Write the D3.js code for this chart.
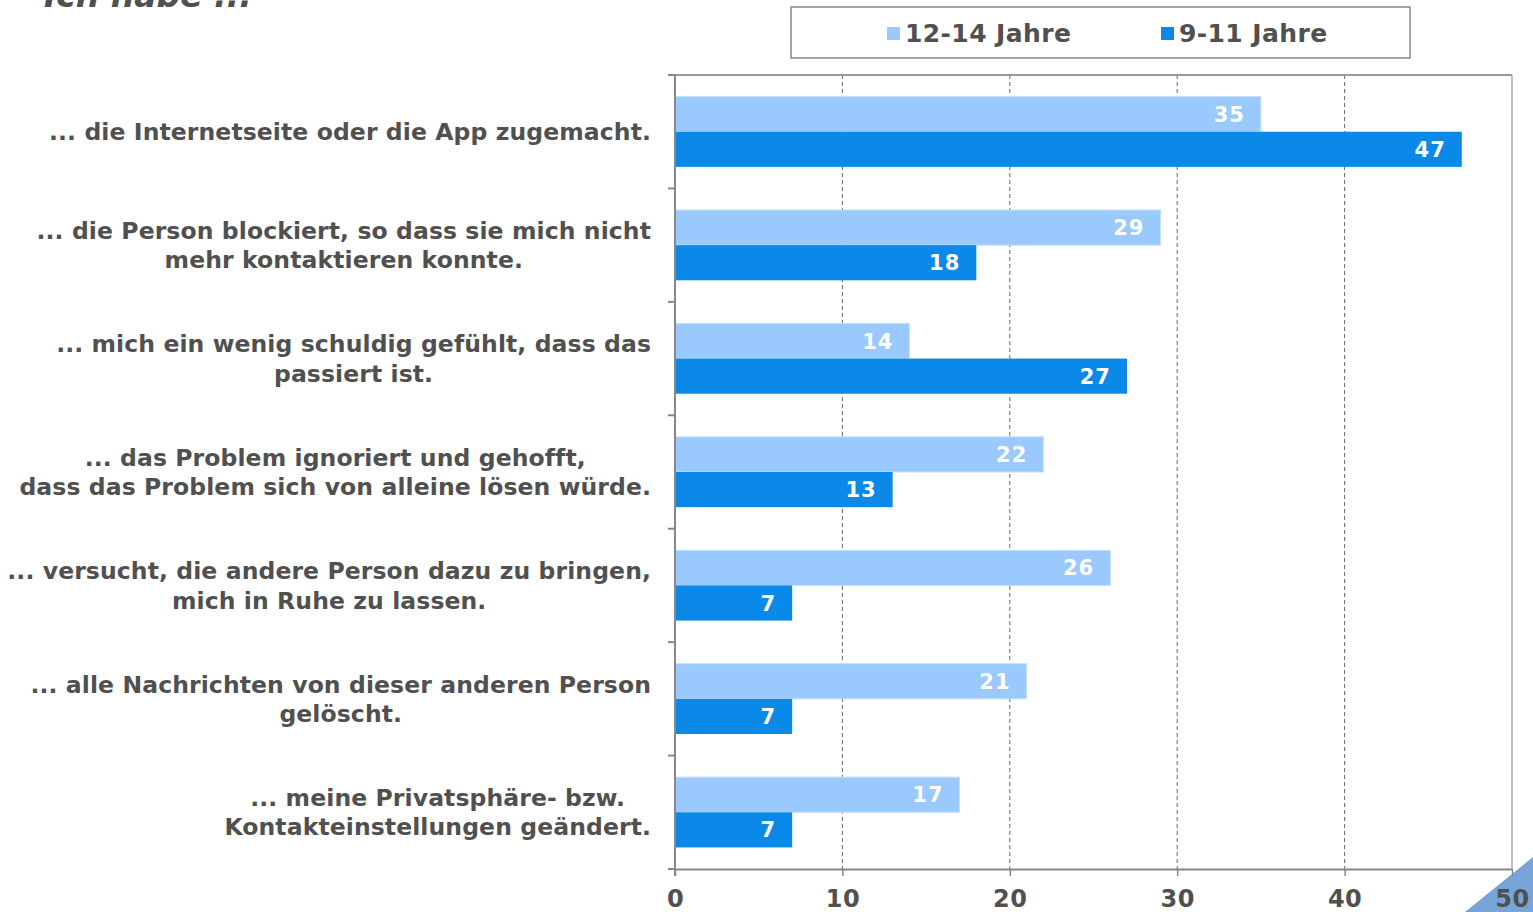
<!DOCTYPE html>
<html>
<head>
<meta charset="utf-8">
<script src="https://cdn.jsdelivr.net/npm/d3@7/dist/d3.min.js"></script>
<style>
	body { margin: 0; background: #fff; }
	svg { display: block; font-family: "DejaVu Sans", Verdana, sans-serif; }
</style>
</head>
<body>
<script>
// Kategorien (Zeilen werden mit "|" getrennt)
var categories = [
	"... die Internetseite oder die App zugemacht.",
	"... die Person blockiert, so dass sie mich nicht|mehr kontaktieren konnte.",
	"... mich ein wenig schuldig gefühlt, dass das|passiert ist.",
	"... das Problem ignoriert und gehofft,|dass das Problem sich von alleine lösen würde.",
	"... versucht, die andere Person dazu zu bringen,|mich in Ruhe zu lassen.",
	"... alle Nachrichten von dieser anderen Person|gelöscht.",
	"... meine Privatsphäre- bzw.|Kontakteinstellungen geändert."
];
var seriesNames = ["12-14 Jahre", "9-11 Jahre"];
var older = [35, 29, 14, 22, 26, 21, 17];
var younger = [47, 18, 27, 13, 7, 7, 7];
var xTicks = [0, 10, 20, 30, 40, 50];
var title = "Ich habe ...";

var colors = ["#99c9fd", "#0a89e8"];
var textColor = "#505050";

var width = 1533, height = 912;
var margin = { top: 75, left: 675, right: 21, bottom: 43 };

var svg = d3.select("body").append("svg")
	.attr("width", width)
	.attr("height", height);

var x = d3.scaleLinear()
	.domain([0, 50])
	.range([margin.left, width - margin.right]);

var y = d3.scaleBand()
	.domain(d3.range(categories.length))
	.range([margin.top, height - margin.bottom]);

var inner = y.bandwidth() * 0.62;
var ySub = d3.scaleBand()
	.domain([0, 1])
	.range([(y.bandwidth() - inner) / 2, (y.bandwidth() + inner) / 2]);

// Titel (oben abgeschnitten wie im Original)
svg.append("text")
	.attr("x", 44)
	.attr("y", 7)
	.attr("font-size", 33)
	.attr("font-weight", "bold")
	.attr("font-style", "italic")
	.attr("fill", textColor)
	.text(title);

// Gitterlinien
svg.append("g")
	.selectAll("line")
	.data(xTicks.slice(1, -1))
	.join("line")
	.attr("x1", d => x(d)).attr("x2", d => x(d))
	.attr("y1", margin.top).attr("y2", height - margin.bottom)
	.attr("stroke", "#666")
	.attr("stroke-width", 1)
	.attr("stroke-dasharray", "4,3");

// Rahmen oben / rechts
svg.append("line")
	.attr("x1", x(0) - 7).attr("x2", x(50))
	.attr("y1", margin.top).attr("y2", margin.top)
	.attr("stroke", "#999").attr("stroke-width", 2);
svg.append("line")
	.attr("x1", x(50)).attr("x2", x(50))
	.attr("y1", margin.top).attr("y2", height - margin.bottom)
	.attr("stroke", "#aaa").attr("stroke-width", 1.5);

// Balken
var rows = svg.append("g")
	.selectAll("g")
	.data(categories.map((c, i) => ({ i: i, values: [older[i], younger[i]] })))
	.join("g")
	.attr("transform", d => "translate(0," + y(d.i) + ")");

rows.selectAll("rect")
	.data(d => d.values.map((v, k) => ({ v: v, k: k })))
	.join("rect")
	.attr("x", x(0))
	.attr("y", d => ySub(d.k))
	.attr("width", d => x(d.v) - x(0))
	.attr("height", ySub.bandwidth())
	.attr("fill", d => colors[d.k])
	.attr("stroke", d => d.k === 0 ? "#c4e0fd" : "none")
	.attr("stroke-width", 1);

rows.selectAll("text.val")
	.data(d => d.values.map((v, k) => ({ v: v, k: k })))
	.join("text")
	.attr("class", "val")
	.attr("x", d => x(d.v) - 16)
	.attr("y", d => ySub(d.k) + ySub.bandwidth() / 2)
	.attr("dy", "0.36em")
	.attr("text-anchor", "end")
	.attr("font-size", 21)
	.attr("letter-spacing", 1)
	.attr("font-weight", "bold")
	.attr("fill", "#fff")
	.text(d => d.v);

// Kategoriebeschriftungen: Block rechtsbündig, Zeilen zentriert
var labelRight = 651, lineH = 29.5;
categories.forEach(function(c, i) {
	var lines = c.split("|");
	var g = svg.append("g");
	var texts = lines.map(function(l, j) {
		return g.append("text")
			.attr("y", y(i) + y.bandwidth() / 2 + (j - (lines.length - 1) / 2) * lineH)
			.attr("dy", "0.36em")
			.attr("font-size", 23.5)
			.attr("letter-spacing", 0.1)
			.attr("font-weight", "bold")
			.attr("fill", textColor)
			.attr("text-anchor", "middle")
			.text(l);
	});
	var maxW = d3.max(texts, t => t.node().getComputedTextLength());
	texts.forEach(t => t.attr("x", labelRight - maxW / 2));
});

// Achse links mit Kategorie-Ticks
svg.append("line")
	.attr("x1", x(0)).attr("x2", x(0))
	.attr("y1", margin.top).attr("y2", height - margin.bottom + 7)
	.attr("stroke", "#888").attr("stroke-width", 2);
svg.append("g")
	.selectAll("line")
	.data(d3.range(categories.length + 1))
	.join("line")
	.attr("x1", x(0) - 7).attr("x2", x(0))
	.attr("y1", d => margin.top + d * y.step())
	.attr("y2", d => margin.top + d * y.step())
	.attr("stroke", "#888").attr("stroke-width", 2);

// Achse unten
var xAxis = svg.append("g")
	.attr("transform", "translate(0," + (height - margin.bottom) + ")")
	.call(d3.axisBottom(x).tickValues(xTicks).tickSize(7).tickPadding(14).tickSizeOuter(0));
xAxis.select(".domain").attr("stroke", "#888").attr("stroke-width", 2);
xAxis.selectAll(".tick line").attr("stroke", "#888").attr("stroke-width", 1.5);

// Dekoratives Dreieck unten rechts
svg.append("path")
	.attr("d", "M1465,912 L1533,857 L1533,912 Z")
	.attr("fill", "#77a5d8");

xAxis.raise();
xAxis.selectAll(".tick text")
	.attr("font-family", "DejaVu Sans, Verdana, sans-serif")
	.attr("font-size", 24)
	.attr("letter-spacing", 0.5)
	.attr("font-weight", "bold")
	.attr("fill", textColor);

// Legende
var legend = svg.append("g");
legend.append("rect")
	.attr("x", 791).attr("y", 7)
	.attr("width", 619).attr("height", 51)
	.attr("fill", "#fff")
	.attr("stroke", "#888").attr("stroke-width", 1.5);
var legendX = [887, 1161];
seriesNames.forEach(function(name, k) {
	legend.append("rect")
		.attr("x", legendX[k]).attr("y", 27)
		.attr("width", 13).attr("height", 13)
		.attr("fill", colors[k]);
	legend.append("text")
		.attr("x", legendX[k] + 18).attr("y", 33)
		.attr("dy", "0.36em")
		.attr("font-size", 25)
		.attr("letter-spacing", 0.4)
		.attr("font-weight", "bold")
		.attr("fill", textColor)
		.text(name);
});
</script>
</body>
</html>
